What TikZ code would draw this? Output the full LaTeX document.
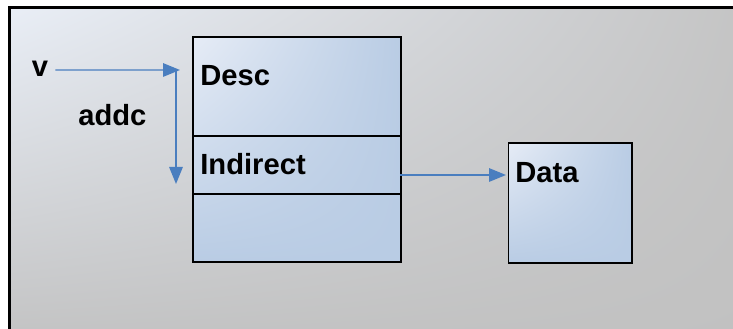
\documentclass[tikz,border=0pt]{standalone}
\usepackage{fontspec}
\setmainfont{Liberation Sans}
\usetikzlibrary{arrows.meta, shadings}

\definecolor{bglight}{HTML}{E9EEF6}
\definecolor{bggray}{HTML}{C1C1C1}
\definecolor{celllight}{HTML}{E6ECF6}
\definecolor{cellblue}{HTML}{B9CCE4}
\definecolor{linkblue}{HTML}{4A7EBF}

\begin{document}
\begin{tikzpicture}[
	cell/.style = {draw = black, line width = 0.9pt, upper left = celllight, upper right = cellblue, lower left = cellblue, lower right = cellblue, inner sep = 0pt, anchor = north west},
	lbl/.style = {font = \fontsize{16.6}{19}\selectfont\bfseries, inner sep = 0pt, anchor = base west},
	link/.style = {linkblue, line width = 0.85pt, -{Triangle[length = 3.4mm, width = 2.7mm]}}
	]
	\useasboundingbox (0, 0) rectangle (14.66, 6.58);
	\clip (0, 0) rectangle (14.66, 6.58);

	% background panel
	\shade[upper left = bglight, upper right = bggray!95!white, lower left = bggray, lower right = bggray] (0.19, -0.5) rectangle (15, 6.43);
	\draw[line width = 1.4pt] (0.19, -0.5) -- (0.19, 6.43) -- (15, 6.43);

	% descriptor block
	\node[cell, minimum width = 4.16 cm, minimum height = 4.5 cm] (mem) at (3.84, 5.86) {};
	\draw[line width = 0.7pt] (mem.west |- 0, 3.86) -- (mem.east |- 0, 3.86);
	\draw[line width = 0.7pt] (mem.west |- 0, 2.70) -- (mem.east |- 0, 2.70);
	\node[lbl] (desc) at (4.00, 4.86) {Desc};
	\node[lbl] (indirect) at (4.00, 3.08) {Indirect};

	% data block
	\node[cell, minimum width = 2.47 cm, minimum height = 2.40 cm] (data) at (10.15, 3.74) {};
	\node[lbl] (datatext) at (10.30, 2.93) {Data};

	% pointers
	\node[lbl, anchor = center] (v) at (0.80, 5.20) {v};
	\node[lbl] (addc) at (1.56, 4.06) {addc};
	\coordinate (corner) at (3.52, 5.18);
	\coordinate (vend) at (3.60, 5.18);
	\coordinate (down) at (3.52, 2.90);
	\coordinate (src) at (8.00, 3.08);
	\coordinate (dst) at (10.12, 3.08);

	\draw[link] (v.east) ++(0.14, -0.02) -- (vend);
	\draw[link] (corner) -- (down);
	\draw[link] (src) -- (dst);
\end{tikzpicture}
\end{document}
